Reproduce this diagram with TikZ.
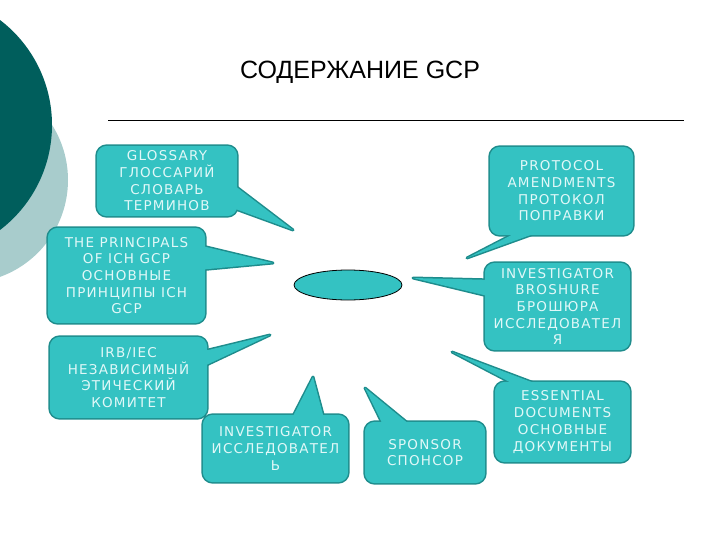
\documentclass[tikz,border=0pt]{standalone}
\usepackage{fontspec}
\newfontfamily\bubblefont{DejaVu Sans}[LetterSpace=9]
\newfontfamily\titlefont{Liberation Sans}
\usetikzlibrary{calc, backgrounds, positioning, shapes.geometric}
\definecolor{deepteal}{RGB}{0,94,92}
\definecolor{paleteal}{RGB}{168,204,204}
\definecolor{bubblefill}{RGB}{52,194,194}
\definecolor{bubbleline}{RGB}{30,140,140}
\definecolor{bubbletext}{RGB}{225,248,248}

\begin{document}
\begin{tikzpicture}[x=1pt, y=-1pt,
    bubble/.style={rectangle, inner sep=0pt, align=center, text=bubbletext,
        font=\bubblefont\fontsize{13.5}{16.7}\selectfont},
    outline/.style={draw=bubbleline, line width=3pt, line join=round},
    hub/.style={ellipse, draw=black, line width=0.8pt, fill=bubblefill,
        minimum width=108pt, minimum height=30pt}]
    \useasboundingbox (0,0) rectangle (720,540);
    % title and rule
    \node (title) at (360,72) {\titlefont\fontsize{25}{30}\selectfont СОДЕРЖАНИЕ GCP};
    \coordinate (rule west) at (108,120);
    \coordinate (rule east) at (684,120);
    \draw[line width=0.8pt] (rule west) -- (rule east);
    % centre
    \node (hub) [hub] at (348,285) {};
    % callouts
    \node (gloss) [bubble, minimum width=140pt, minimum height=70pt] at (167,181)
        {GLOSSARY\\ГЛОССАРИЙ\\СЛОВАРЬ\\ТЕРМИНОВ};
    \node (proto) [bubble, minimum width=143pt, minimum height=88pt] at (561.5,191)
        {PROTOCOL\\AMENDMENTS\\ПРОТОКОЛ\\ПОПРАВКИ};
    \node (princ) [bubble, minimum width=157pt, minimum height=95pt] at (126.5,275.5)
        {THE PRINCIPALS\\OF ICH GCP\\ОСНОВНЫЕ\\ПРИНЦИПЫ ICH\\GCP};
    \node (brosh) [bubble, minimum width=145pt, minimum height=87pt] at (557.5,306.5)
        {INVESTIGATOR\\BROSHURE\\БРОШЮРА\\ИССЛЕДОВАТЕЛ\\Я};
    \node (irb) [bubble, minimum width=157pt, minimum height=81pt] at (128.5,377.5)
        {IRB/IEC\\НЕЗАВИСИМЫЙ\\ЭТИЧЕСКИЙ\\КОМИТЕТ};
    \node (inv) [bubble, minimum width=145pt, minimum height=67pt] at (275.5,448.5)
        {INVESTIGATOR\\ИССЛЕДОВАТЕЛ\\Ь};
    \node (spons) [bubble, minimum width=120pt, minimum height=61pt] at (425,452.5)
        {SPONSOR\\СПОНСОР};
    \node (ess) [bubble, minimum width=135pt, minimum height=80pt] at (562.5,422)
        {ESSENTIAL\\DOCUMENTS\\ОСНОВНЫЕ\\ДОКУМЕНТЫ};
    % tails: base, tip, base
    \coordinate (gloss-a) at (230,182); \coordinate (gloss-tip) at (293,230); \coordinate (gloss-b) at (230,207);
    \coordinate (proto-a) at (525,228); \coordinate (proto-tip) at (467,258); \coordinate (proto-b) at (550,228);
    \coordinate (princ-a) at (198,245); \coordinate (princ-tip) at (273,263); \coordinate (princ-b) at (198,270);
    \coordinate (brosh-a) at (492,280); \coordinate (brosh-tip) at (413,278); \coordinate (brosh-b) at (492,297);
    \coordinate (irb-a) at (200,352); \coordinate (irb-tip) at (270,335); \coordinate (irb-b) at (200,368);
    \coordinate (inv-a) at (290,422); \coordinate (inv-tip) at (313,377); \coordinate (inv-b) at (325,422);
    \coordinate (spons-a) at (385,429); \coordinate (spons-tip) at (365,388); \coordinate (spons-b) at (415,429);
    \coordinate (ess-a) at (523,389); \coordinate (ess-tip) at (452,352); \coordinate (ess-b) at (550,389);
    \begin{scope}[on background layer]
    \fill[paleteal] (-35,180) circle (103);
    \fill[deepteal] (-80,125) circle (132);
    \foreach \n in {gloss,proto,princ,brosh,irb,inv,spons,ess} {
        \path[outline, rounded corners=10pt] (\n.north west) rectangle (\n.south east);
        \path[outline] (\n-a) -- (\n-tip) -- (\n-b) -- cycle;
    }
    \foreach \n in {gloss,proto,princ,brosh,irb,inv,spons,ess} {
        \fill[bubblefill, rounded corners=10pt] (\n.north west) rectangle (\n.south east);
        \fill[bubblefill] (\n-a) -- (\n-tip) -- (\n-b) -- cycle;
    }
    \end{scope}
\end{tikzpicture}
\end{document}
